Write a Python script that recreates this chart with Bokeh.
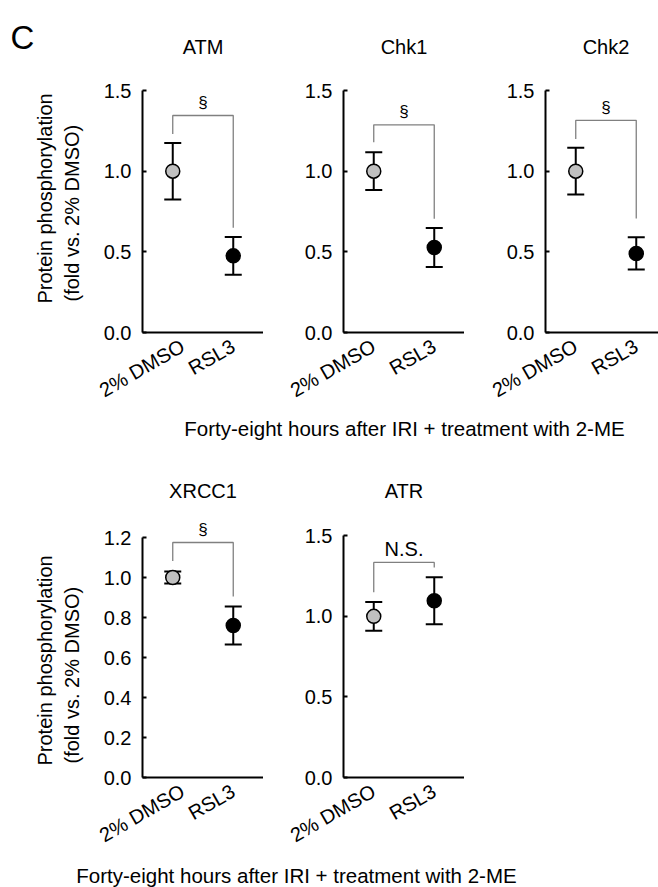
import math
from bokeh.plotting import figure
from bokeh.layouts import row, column
from bokeh.models import Range1d, FixedTicker, PrintfTickFormatter, ColumnDataSource
from bokeh.core.properties import value
from bokeh.embed import file_html
from bokeh.resources import INLINE

FONT = "Liberation Sans"

# ---------------- data ----------------
groups = ["2% DMSO", "RSL3"]
group_x = [0.5, 1.5]
group_fill = ["#c0c0c0", "#000000"]

atm_mean = [1.0, 0.475]
atm_err = [0.175, 0.117]
chk1_mean = [1.0, 0.527]
chk1_err = [0.117, 0.121]
chk2_mean = [1.0, 0.49]
chk2_err = [0.145, 0.10]
xrcc1_mean = [1.0, 0.76]
xrcc1_err = [0.03, 0.095]
atr_mean = [1.0, 1.097]
atr_err = [0.089, 0.146]

# significance brackets: [left leg end, top, right leg end]
atm_bracket = [1.23, 1.345, 0.65]
chk1_bracket = [1.18, 1.287, 0.705]
chk2_bracket = [1.20, 1.315, 0.706]
xrcc1_bracket = [1.083, 1.175, 0.905]
atr_bracket = [1.149, 1.335, 1.304]

atm_mark, chk1_mark, chk2_mark, xrcc1_mark, atr_mark = "§", "§", "§", "§", "N.S."

yticks_15 = [0.0, 0.5, 1.0, 1.5]
yticks_12 = [0.0, 0.2, 0.4, 0.6, 0.8, 1.0, 1.2]

y_title_lines = ["Protein phosphorylation", "(fold vs. 2% DMSO)"]
caption = "Forty-eight hours after IRI + treatment with 2-ME"
panel_letter = "C"


def make_panel(name, mean, err, bracket, mark, yticks, ppu, fw, fh, bl, bb, title_px):
    p = figure(frame_width=fw, frame_height=fh,
               x_range=Range1d(0, 2 * fw / 121.0), y_range=Range1d(0, fh / ppu),
               output_backend="svg", toolbar_location=None,
               min_border_left=bl, min_border_right=0, min_border_top=0,
               min_border_bottom=bb)
    p.outline_line_color = None
    p.xgrid.visible = False
    p.ygrid.visible = False
    p.background_fill_color = "white"
    p.border_fill_color = "white"

    # y axis
    ya = p.yaxis[0]
    ya.bounds = (yticks[0], yticks[-1])
    ya.ticker = FixedTicker(ticks=yticks)
    ya.formatter = PrintfTickFormatter(format="%.1f")
    ya.axis_line_width = 2
    ya.axis_line_color = "black"
    ya.major_tick_in = 4
    ya.major_tick_out = 0
    ya.major_tick_line_width = 2
    ya.minor_tick_line_color = None
    ya.major_label_text_font = FONT
    ya.major_label_text_font_size = "20px"
    ya.major_label_text_color = "black"
    ya.major_label_standoff = 11

    # x axis
    xa = p.xaxis[0]
    xa.ticker = FixedTicker(ticks=group_x)
    xa.major_label_overrides = {gx: g for gx, g in zip(group_x, groups)}
    xa.major_label_orientation = math.pi / 6
    xa.axis_line_width = 2
    xa.axis_line_color = "black"
    xa.major_tick_line_color = None
    xa.major_tick_out = 0
    xa.major_tick_in = 0
    xa.minor_tick_line_color = None
    xa.major_label_text_font = FONT
    xa.major_label_text_font_size = "20px"
    xa.major_label_text_color = "black"
    xa.major_label_standoff = 12

    src = ColumnDataSource(dict(
        x=group_x, m=mean,
        lo=[a - b for a, b in zip(mean, err)],
        hi=[a + b for a, b in zip(mean, err)],
        fill=group_fill))

    # bracket
    p.line(x=[group_x[0], group_x[0], group_x[1], group_x[1]],
           y=[bracket[0], bracket[1], bracket[1], bracket[2]],
           line_color="#808080", line_width=1.3)
    p.text(x=[(group_x[0] + group_x[1]) / 2], y=[bracket[1]], text=[mark],
           text_font=value(FONT), text_font_size="17px" if mark == "§" else "20px",
           text_align="center", text_baseline="middle", y_offset=-13,
           text_color="black")

    # error bars
    p.segment(x0="x", y0="lo", x1="x", y1="hi", source=src,
              line_color="black", line_width=2)
    p.scatter(x="x", y="lo", source=src, marker="dash", size=17,
              line_color="black", line_width=2)
    p.scatter(x="x", y="hi", source=src, marker="dash", size=17,
              line_color="black", line_width=2)
    # points
    p.scatter(x="x", y="m", source=src, marker="circle", size=14,
              fill_color="fill", line_color="black", line_width=1.5)

    # panel title
    p.text(x=[1.0], y=[title_px / ppu], text=[name], text_font=value(FONT),
           text_font_size="20px", text_align="center", text_baseline="middle",
           text_color="black")
    return p


def style_blank(c):
    c.axis.visible = False
    c.grid.visible = False
    c.outline_line_color = None
    c.background_fill_color = "white"
    c.border_fill_color = "white"
    return c


def ytitle_strip(w, fh, bb, starts_from_frame_top, letter=False):
    # strip with the same frame height as the panels beside it (frames align in a row)
    s = figure(frame_width=w, frame_height=fh, x_range=Range1d(0, w), y_range=Range1d(0, fh),
               output_backend="svg", toolbar_location=None,
               min_border_left=0, min_border_right=0, min_border_top=0, min_border_bottom=bb)
    style_blank(s)
    s.text(x=[44, 71], y=[fh - v for v in starts_from_frame_top], text=y_title_lines,
           text_font=value(FONT), text_font_size="20px", angle=math.pi / 2,
           text_align="left", text_baseline="middle", text_color="black")
    if letter:
        s.text(x=[10], y=[fh - 37], text=[panel_letter], text_font=value(FONT),
               text_font_size="33px", text_align="left", text_baseline="alphabetic",
               text_color="black")
    return s


def caption_fig(h, cx, cy_from_top):
    c = figure(width=658, height=h, x_range=Range1d(0, 658), y_range=Range1d(0, h),
               output_backend="svg", toolbar_location=None,
               min_border_left=0, min_border_right=0, min_border_top=0, min_border_bottom=0)
    style_blank(c)
    c.text(x=[cx], y=[h - cy_from_top], text=[caption], text_font=value(FONT),
           text_font_size="20.5px", text_align="center", text_baseline="middle",
           text_color="black")
    return c


STRIP_W = 95
TOP_PPU = 242 / 1.5
TOP_FH, TOP_BB = 332, 84
BOT_FH, BOT_BB = 336, 84
TOP_H = TOP_FH + TOP_BB          # 416
CAP1_H = 25
BOT_TOP = TOP_H + CAP1_H         # 441
BOT_H = BOT_FH + BOT_BB          # 420
BOT_FRAME_BOTTOM = BOT_TOP + BOT_FH   # 777

strip_top = ytitle_strip(STRIP_W, TOP_FH, TOP_BB, [303, 301], letter=True)
f_atm = make_panel("ATM", atm_mean, atm_err, atm_bracket, atm_mark, yticks_15,
                   TOP_PPU, 121, TOP_FH, 142 - STRIP_W, TOP_BB, 332 - 46)
f_chk1 = make_panel("Chk1", chk1_mean, chk1_err, chk1_bracket, chk1_mark, yticks_15,
                    TOP_PPU, 121, TOP_FH, 80, TOP_BB, 332 - 46)
f_chk2 = make_panel("Chk2", chk2_mean, chk2_err, chk2_bracket, chk2_mark, yticks_15,
                    TOP_PPU, 113, TOP_FH, 81, TOP_BB, 332 - 46)

cap1 = caption_fig(CAP1_H, 404, 428 - TOP_H)

strip_bot = ytitle_strip(STRIP_W, BOT_FH, BOT_BB, [765 - BOT_TOP, 763 - BOT_TOP])
f_xrcc1 = make_panel("XRCC1", xrcc1_mean, xrcc1_err, xrcc1_bracket, xrcc1_mark, yticks_12,
                     200.0, 121, BOT_FH, 142 - STRIP_W, BOT_BB, BOT_FRAME_BOTTOM - 490)
f_atr = make_panel("ATR", atr_mean, atr_err, atr_bracket, atr_mark, yticks_15,
                   241.7 / 1.5, 121, BOT_FH, 80, BOT_BB, BOT_FRAME_BOTTOM - 490)

CAP2_H = 887 - BOT_TOP - BOT_H   # 26
cap2 = caption_fig(CAP2_H, 296, 874.5 - BOT_TOP - BOT_H)

layout = column(row(strip_top, f_atm, f_chk1, f_chk2, spacing=0), cap1,
                row(strip_bot, f_xrcc1, f_atr, spacing=0), cap2, spacing=0)

open("out.html", "w").write(file_html(layout, INLINE))
